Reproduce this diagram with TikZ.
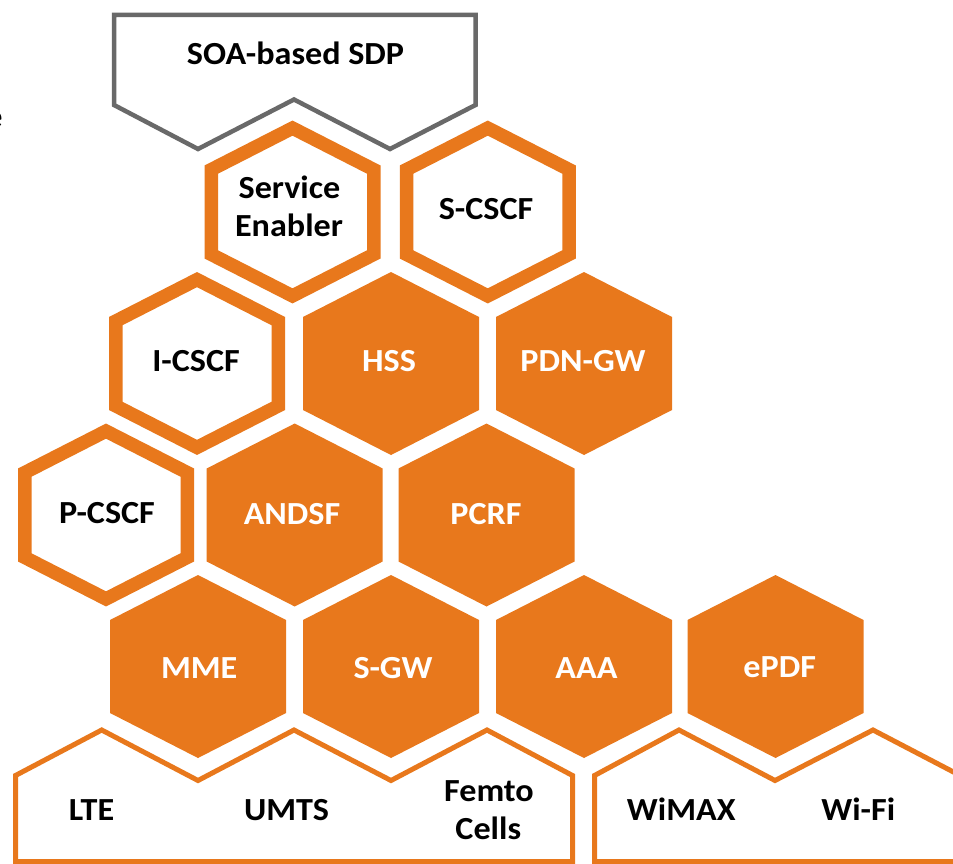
\documentclass[tikz,border=0pt]{standalone}
\usepackage{fontspec}
\setmainfont{Carlito}[FakeStretch=1.06]
\definecolor{hexor}{RGB}{232,120,28}
\definecolor{soagray}{RGB}{105,105,105}
\tikzset{
  hexfull/.pic={\fill[hexor] (0,-91.5) -- (88,-46.5) -- (88,46.5) -- (0,91.5) -- (-88,46.5) -- (-88,-46.5) -- cycle;},
  hexring/.pic={\draw[hexor, fill=white, line width=13.5, line join=miter] (0,-83.9) -- (81.25,-42.4) -- (81.25,42.4) -- (0,83.9) -- (-81.25,42.4) -- (-81.25,-42.4) -- cycle;},
  lbl/.style={font=\fontsize{32.2}{38.5}\selectfont\bfseries, inner sep=0pt, anchor=base, align=center},
  wlbl/.style={lbl, text=white},
  klbl/.style={lbl, text=black},
  netbox/.style={draw=hexor, fill=white, line width=5, line join=miter},
  soabox/.style={draw=soagray, fill=white, line width=4.5, line join=miter}
}
\begin{document}
\begin{tikzpicture}[x=1pt,y=-1pt]
\useasboundingbox (0,0) rectangle (953,864);
\fill[white] (0,0) rectangle (953,864);
% SOA box
\draw[soabox] (114,15) -- (475.5,15) -- (475.5,105) -- (390,149) -- (294,99.5) -- (198,149) -- (114,105) -- cycle;
% row 2
\pic at (292.5,212) {hexring};
\pic at (487.8,212) {hexring};
% row 3
\pic at (197,363.5) {hexring};
\pic at (391,363.5) {hexfull};
\pic at (584,363.5) {hexfull};
% row 4
\pic at (106,515) {hexring};
\pic at (294.7,515) {hexfull};
\pic at (486.5,515) {hexfull};
% row 5
\pic at (198,666.5) {hexfull};
\pic at (391,666.5) {hexfull};
\pic at (584,666.5) {hexfull};
\pic at (775.5,666.5) {hexfull};
% bottom access networks
\draw[netbox] (15.5,861.5) -- (15.5,775.5) -- (101.7,730) -- (198,780.5) -- (294,730) -- (391,780.5) -- (487,730) -- (572.5,775.5) -- (572.5,861.5) -- cycle;
\draw[netbox] (594.5,861.5) -- (594.5,775.5) -- (679,730) -- (775,780.5) -- (873,730) -- (965,778) -- (965,861.5) -- cycle;
% labels
\node[klbl] (soa) at (295.5,65) {SOA-based SDP};
\node[klbl] (cut) at (-6,128) {e};
\node[klbl] (se1) at (289.5,198.3) {Service};
\node[klbl] (se2) at (289,236.7) {Enabler};
\node[klbl] (scscf) at (486,219.3) {S-CSCF};
\node[klbl] (icscf) at (196,371.7) {I-CSCF};
\node[wlbl] (hss) at (389,371.7) {HSS};
\node[wlbl] (pdngw) at (583,371.7) {PDN-GW};
\node[klbl] (pcscf) at (107,523.5) {P-CSCF};
\node[wlbl] (andsf) at (292,524) {ANDSF};
\node[wlbl] (pcrf) at (486,524) {PCRF};
\node[wlbl] (mme) at (199.2,678.3) {MME};
\node[wlbl] (sgw) at (393,678.3) {S-GW};
\node[wlbl] (aaa) at (586.5,678.3) {AAA};
\node[wlbl] (epdf) at (779.7,677.3) {ePDF};
\node[klbl] (lte) at (91.5,820) {LTE};
\node[klbl] (umts) at (286.5,820) {UMTS};
\node[klbl] (femto) at (489,801) {Femto};
\node[klbl] (cells) at (488.3,839.3) {Cells};
\node[klbl] (wimax) at (681.3,820) {WiMAX};
\node[klbl] (wifi) at (858.3,820) {Wi-Fi};
\end{tikzpicture}
\end{document}
